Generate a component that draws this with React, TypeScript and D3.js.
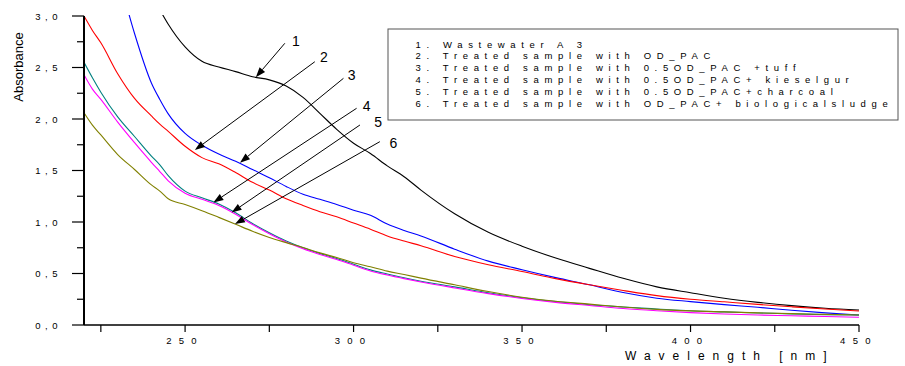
import React from "react";
import * as d3 from "d3";

// ---------- data ----------
const wavelengths = [220, 222.5, 225, 230, 235, 240, 242.5, 245, 250, 255, 260, 265, 270, 275, 280, 285, 290, 295, 300, 305, 310, 315, 320, 330, 340, 350, 360, 370, 380, 390, 400, 410, 420, 430, 440, 450];

const wastewaterA3 = [null, null, null, null, null, 3.2, 3.06, 2.92, 2.7, 2.56, 2.505, 2.46, 2.41, 2.38, 2.32, 2.21, 2.055, 1.9, 1.765, 1.665, 1.545, 1.44, 1.31, 1.08, 0.9, 0.765, 0.65, 0.55, 0.453, 0.37, 0.313, 0.26, 0.22, 0.188, 0.163, 0.146];
const odPac = [null, null, null, 3.42, 2.83, 2.35, 2.19, 2.05, 1.86, 1.745, 1.66, 1.59, 1.51, 1.43, 1.345, 1.27, 1.22, 1.17, 1.115, 1.065, 0.98, 0.918, 0.865, 0.736, 0.62, 0.537, 0.46, 0.39, 0.315, 0.26, 0.227, 0.198, 0.172, 0.143, 0.118, 0.097];
const odPacTuff = [3.0, 2.86, 2.74, 2.44, 2.2, 2.03, 1.95, 1.88, 1.735, 1.625, 1.565, 1.48, 1.385, 1.31, 1.225, 1.16, 1.1, 1.05, 0.99, 0.93, 0.865, 0.815, 0.77, 0.665, 0.585, 0.52, 0.45, 0.39, 0.335, 0.285, 0.25, 0.225, 0.2, 0.177, 0.155, 0.136];
const odPacKieselgur = [2.55, 2.4, 2.26, 2.02, 1.83, 1.64, 1.555, 1.45, 1.3, 1.235, 1.175, 1.09, 0.985, 0.895, 0.815, 0.75, 0.695, 0.645, 0.59, 0.535, 0.495, 0.458, 0.425, 0.37, 0.313, 0.265, 0.228, 0.197, 0.175, 0.156, 0.138, 0.127, 0.117, 0.108, 0.101, 0.097];
const odPacCharcoal = [2.43, 2.29, 2.19, 1.97, 1.77, 1.58, 1.49, 1.4, 1.28, 1.22, 1.16, 1.075, 0.975, 0.885, 0.805, 0.74, 0.685, 0.635, 0.58, 0.525, 0.485, 0.45, 0.418, 0.36, 0.305, 0.258, 0.22, 0.19, 0.16, 0.138, 0.12, 0.107, 0.097, 0.09, 0.082, 0.075];
const odPacSludge = [2.06, 1.94, 1.845, 1.655, 1.51, 1.36, 1.3, 1.225, 1.17, 1.11, 1.045, 0.978, 0.91, 0.85, 0.8, 0.752, 0.7, 0.655, 0.605, 0.565, 0.523, 0.49, 0.455, 0.39, 0.325, 0.27, 0.23, 0.203, 0.175, 0.152, 0.137, 0.127, 0.118, 0.11, 0.103, 0.097];

const seriesValues = [wastewaterA3, odPac, odPacTuff, odPacKieselgur, odPacCharcoal, odPacSludge];
const seriesColors = ["#000000", "#0000ff", "#ff0000", "#008080", "#ff00ff", "#808000"];

const legendLabels = [
  "1. Wastewater A 3",
  "2. Treated sample with OD_PAC",
  "3. Treated sample with 0.5OD_PAC +tuff",
  "4. Treated sample with 0.5OD_PAC+ kieselgur",
  "5. Treated sample with 0.5OD_PAC+charcoal",
  "6. Treated sample with OD_PAC+ biologicalsludge",
];

const yMajorTicks = [0, 0.5, 1.0, 1.5, 2.0, 2.5, 3.0];
const yMinorTicks = [0.25, 0.75, 1.25, 1.75, 2.25, 2.75];
const xMajorTicks = [250, 300, 350, 400, 450];
const xMinorTicks = [225, 275, 325, 375, 425];

// annotation arrows (data coordinates)
const arrowLabels = ["1", "2", "3", "4", "5", "6"];
const arrowFromWl = [279.6, 288.5, 297.0, 300.9, 301.9, 307.8];
const arrowFromAbs = [2.735, 2.556, 2.395, 2.104, 1.942, 1.78];
const arrowToWl = [271.0, 252.9, 266.3, 258.4, 263.8, 264.8];
const arrowToAbs = [2.405, 1.699, 1.576, 1.19, 1.092, 0.98];
const labelWl = [282.9, 291.2, 299.4, 303.9, 307.3, 311.8];
const labelAbs = [2.76, 2.6, 2.427, 2.126, 1.974, 1.77];

// ---------- layout ----------
const W = 905;
const H = 366;
const LEFT = 84;
const RIGHT = 859;
const TOP = 16;
const BOTTOM = 325;
const FONT = "'Liberation Sans', Arial, sans-serif";

export default function App() {
  const x = d3.scaleLinear().domain([220, 450]).range([LEFT, RIGHT]);
  const y = d3.scaleLinear().domain([0, 3]).range([BOTTOM, TOP]);

  const line = d3
    .line<number | null>()
    .defined((d) => d !== null)
    .x((_, i) => x(wavelengths[i]))
    .y((d) => y(d as number))
    .curve(d3.curveMonotoneX);

  const fmtY = (v: number) => d3.format(".1f")(v).replace(".", ",");

  const arrows = arrowLabels.map((lab, i) => {
    const x1 = x(arrowFromWl[i]);
    const y1 = y(arrowFromAbs[i]);
    const x2 = x(arrowToWl[i]);
    const y2 = y(arrowToAbs[i]);
    const ang = Math.atan2(y2 - y1, x2 - x1);
    const hl = 10;
    const hw = 3.6;
    const bx = x2 - hl * Math.cos(ang);
    const by = y2 - hl * Math.sin(ang);
    const px = -Math.sin(ang) * hw;
    const py = Math.cos(ang) * hw;
    return { lab, x1, y1, bx, by, x2, y2, px, py, lx: x(labelWl[i]), ly: y(labelAbs[i]) };
  });

  return (
    <div style={{ position: "absolute", left: 0, top: 0 }}>
      <svg width={W} height={H} style={{ display: "block", background: "#fff" }} fontFamily={FONT}>
        <rect x={0} y={0} width={W} height={H} fill="#fff" />
        <defs>
          <clipPath id="plot">
            <rect x={LEFT} y={TOP - 1} width={RIGHT - LEFT + 1} height={BOTTOM - TOP + 1} />
          </clipPath>
        </defs>

        {/* curves */}
        <g clipPath="url(#plot)" fill="none">
          {seriesValues.map((vals, i) => (
            <path key={i} d={line(vals) || ""} stroke={seriesColors[i]} strokeWidth={1.1} />
          ))}
        </g>

        {/* axes */}
        <line x1={LEFT} x2={LEFT} y1={TOP} y2={BOTTOM} stroke="#000" strokeWidth={2} />
        <line x1={LEFT} x2={RIGHT} y1={BOTTOM} y2={BOTTOM} stroke="#000" strokeWidth={1.5} />
        {yMajorTicks.map((t) => (
          <g key={"ym" + t}>
            <line x1={72} x2={LEFT} y1={y(t)} y2={y(t)} stroke="#000" strokeWidth={1.2} />
            <text x={62} y={y(t) + 3.5} textAnchor="end" fontSize={9.5} letterSpacing={4.5} fill="#000">
              {fmtY(t)}
            </text>
          </g>
        ))}
        {yMinorTicks.map((t) => (
          <line key={"yn" + t} x1={77} x2={LEFT} y1={y(t)} y2={y(t)} stroke="#000" strokeWidth={1.2} />
        ))}
        {xMajorTicks.map((t) => (
          <g key={"xm" + t}>
            <line x1={x(t)} x2={x(t)} y1={BOTTOM} y2={BOTTOM + 7} stroke="#000" strokeWidth={1.2} />
            <text x={x(t)} y={344} textAnchor="middle" fontSize={9.5} letterSpacing={7.3} fill="#000">
              {String(t)}
            </text>
          </g>
        ))}
        {xMinorTicks.map((t) => (
          <line key={"xn" + t} x1={x(t)} x2={x(t)} y1={BOTTOM} y2={BOTTOM + 7} stroke="#000" strokeWidth={1.2} />
        ))}

        {/* axis titles */}
        <text x={625} y={359.5} fontSize={12} letterSpacing={8} fill="#000">
          Wavelength [nm]
        </text>
        <text
          transform={`translate(23,67) rotate(-90)`}
          textAnchor="middle"
          fontSize={13}
          fill="#000"
        >
          Absorbance
        </text>

        {/* arrows */}
        {arrows.map((a) => (
          <g key={a.lab}>
            <line x1={a.x1} y1={a.y1} x2={a.bx} y2={a.by} stroke="#000" strokeWidth={1} />
            <path
              d={`M${a.x2},${a.y2}L${a.bx + a.px},${a.by + a.py}L${a.bx - a.px},${a.by - a.py}Z`}
              fill="#000"
            />
            <text x={a.lx} y={a.ly + 5} textAnchor="middle" fontSize={14} fill="#000">
              {a.lab}
            </text>
          </g>
        ))}

        {/* legend */}
        <rect x={388} y={29} width={510} height={91} fill="#fff" stroke="#555" strokeWidth={1} />
        {legendLabels.map((lab, i) => (
          <text key={lab} x={415.5} y={47.5 + i * 11.9} fontSize={9.5} letterSpacing={5.65} fill="#000">
            {lab}
          </text>
        ))}
      </svg>
    </div>
  );
}
